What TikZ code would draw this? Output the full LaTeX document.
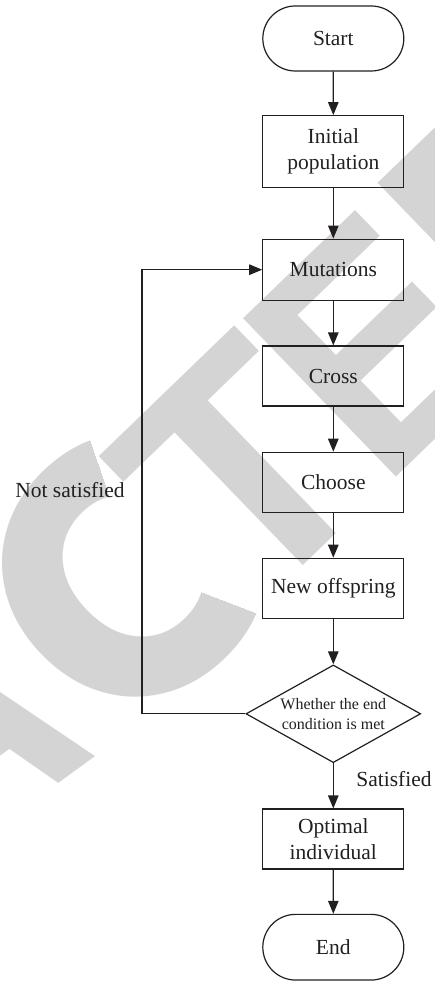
\documentclass[tikz,border=0pt]{standalone}
\usepackage{fontspec}
\setmainfont{Liberation Serif}
\newfontfamily\markfont{Liberation Sans}
\newfontfamily\roundmarkfont{Poppins}
\usetikzlibrary{shapes.geometric,shapes.misc,arrows.meta,calc}
\definecolor{ink}{HTML}{231F20}
\definecolor{stamp}{HTML}{D4D4D4}

\begin{document}
\begin{tikzpicture}[x=1pt,y=-1pt,
  box/.style={draw=ink, line width=1.2pt, minimum width=141pt, minimum height=60pt,
    align=center, text=ink, inner sep=0pt, font=\fontsize{21.5}{26}\selectfont},
  term/.style={box, rounded rectangle, minimum height=65pt},
  decision/.style={draw=ink, line width=1.2pt, diamond, aspect=1.79, inner sep=0pt,
    minimum width=174.7pt, minimum height=97.7pt, align=center, text=ink,
    font=\fontsize{16}{20}\selectfont},
  flow/.style={draw=ink, line width=1.2pt, -{Triangle[length=13pt,width=10.5pt]}},
  tag/.style={text=ink, inner sep=0pt, font=\fontsize{21.5}{26}\selectfont},
  stampletter/.style={text=stamp, inner sep=0pt, rotate=44,
    font=\markfont\bfseries\fontsize{#1}{#1}\selectfont},
  stampletter/.default=320]

\useasboundingbox (0,0) rectangle (434,981);

% large grey stamp lettering behind the chart
\begin{scope}
  \clip (0,0) rectangle (434,981);
  \node[stampletter, rotate=-8] (stampA) at (-55.7,730.3) {A};
  \begin{scope}
    % open the mouth of the C a little wider
    \clip (133,566) -- (506.5,709) -- (230,954) -- (-155,844) -- (-251,456) -- (3,188) -- cycle;
    \node[stampletter, font=\roundmarkfont\bfseries\fontsize{365}{365}\selectfont] (stampC) at (133,566) {C};
  \end{scope}
  \node[stampletter] (stampT) at (243,470) {T};
  \node[stampletter, xscale=0.9] (stampE) at (375.6,344.7) {E};
  \node[stampletter] (stampD) at (521.9,196.9) {D};
\end{scope}

% flowchart nodes
\node[term] (start) at (333.3,38.5) {Start};
\node[box, minimum height=72pt] (init) at (333.3,151.7) {Initial\\population};
\node[box, minimum height=61pt] (mut) at (333.3,269.7) {Mutations};
\node[box] (cross) at (333.3,376) {Cross};
\node[box] (choose) at (333.3,482.3) {Choose};
\node[box] (new) at (333.3,588.3) {New offspring};
\node[decision] (dec) at (333.3,713.8) {Whether the end\\condition is met};
\node[box] (opt) at (333.3,839) {Optimal\\individual};
\node[term, minimum height=65.7pt] (end) at (333.3,947.2) {End};

% branch labels
\node[tag] (nots) at (70,490) {Not satisfied};
\node[tag] (sat) at (394,779) {Satisfied};

% connectors
\draw[flow] (start) -- (init);
\draw[flow] (init) -- (mut);
\draw[flow] (mut) -- (cross);
\draw[flow] (cross) -- (choose);
\draw[flow] (choose) -- (new);
\draw[flow] (new) -- (dec);
\draw[flow] (dec) -- (opt);
\draw[flow] (opt) -- (end);
\coordinate (bend) at (142,713.8);
\draw[flow] (dec.west) -- (bend) |- (mut.west);
\end{tikzpicture}
\end{document}
